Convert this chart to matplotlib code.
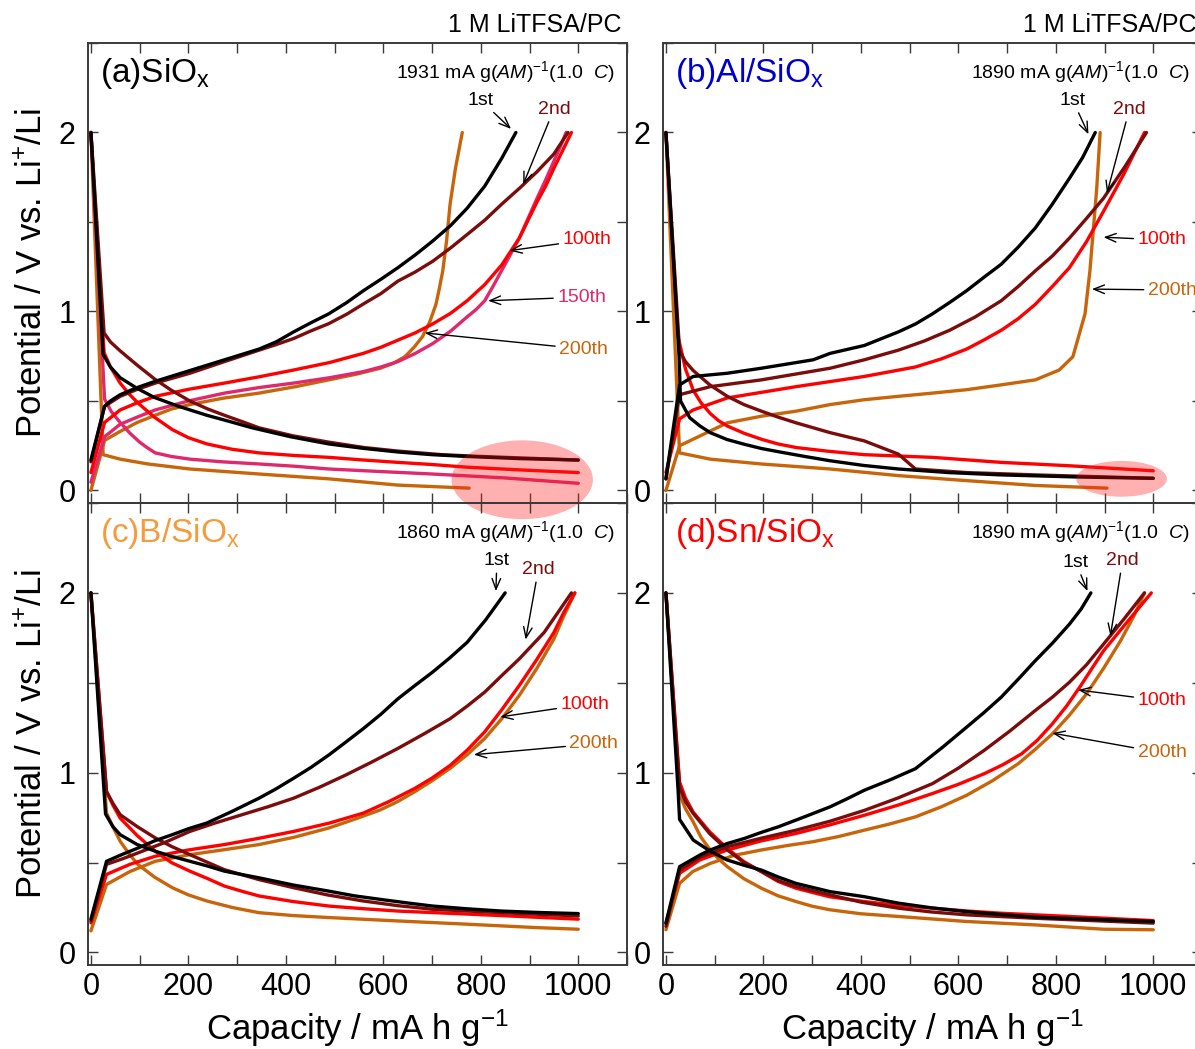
import matplotlib
matplotlib.use("Agg")
import matplotlib.pyplot as plt
from matplotlib.patches import Ellipse
from matplotlib.ticker import MultipleLocator, FuncFormatter

plt.rcParams.update({
    "font.family": ["Liberation Sans", "DejaVu Sans"],
    "mathtext.fontset": "custom",
    "mathtext.rm": "Liberation Sans",
    "mathtext.it": "Liberation Sans:italic",
    "mathtext.bf": "Liberation Sans:bold",
})

# ---- charge/discharge profiles: (capacity mAh/g, potential V) ----
# (a) SiOx
a_dis_1st = [(0, 2.0), (25, 0.76), (40, 0.69), (60, 0.63), (95, 0.57), (130, 0.52), (180, 0.47), (238, 0.42), (285, 0.385), (331, 0.35), (410, 0.30), (488, 0.26), (560, 0.235), (630, 0.215), (700, 0.2), (772, 0.19), (880, 0.178), (1000, 0.17)]
a_dis_2nd = [(0, 2.0), (27, 0.88), (40, 0.83), (60, 0.78), (95, 0.7), (132, 0.62), (165, 0.56), (203, 0.5), (240, 0.455), (274, 0.42), (310, 0.385), (345, 0.35), (415, 0.305), (488, 0.27), (560, 0.24), (630, 0.22), (720, 0.2), (800, 0.19), (1000, 0.17)]
a_dis_100 = [(0, 2.0), (27, 0.77), (40, 0.69), (60, 0.6), (78, 0.54), (96, 0.49), (130, 0.41), (167, 0.34), (200, 0.295), (238, 0.26), (290, 0.23), (345, 0.21), (420, 0.195), (488, 0.185), (560, 0.17), (630, 0.157), (700, 0.145), (772, 0.13), (880, 0.115), (1000, 0.10)]
a_dis_150 = [(0, 2.0), (28, 0.51), (42, 0.44), (60, 0.38), (80, 0.32), (100, 0.27), (115, 0.24), (132, 0.21), (165, 0.19), (203, 0.175), (270, 0.16), (345, 0.148), (420, 0.135), (488, 0.12), (600, 0.105), (700, 0.092), (850, 0.07), (1000, 0.04)]
a_dis_200 = [(0, 2.0), (25, 0.2), (60, 0.175), (117, 0.148), (203, 0.12), (345, 0.092), (488, 0.065), (630, 0.03), (776, 0.013)]
a_chg_1st = [(0, 0.17), (28, 0.47), (40, 0.5), (60, 0.535), (95, 0.575), (132, 0.61), (203, 0.67), (274, 0.73), (345, 0.79), (380, 0.83), (416, 0.886), (450, 0.935), (488, 0.987), (525, 1.05), (559, 1.116), (595, 1.18), (630, 1.245), (665, 1.315), (701, 1.393), (738, 1.48), (772, 1.577), (808, 1.70), (843, 1.856), (872, 2.0)]
a_chg_2nd = [(0, 0.16), (28, 0.47), (60, 0.526), (95, 0.565), (132, 0.6), (203, 0.655), (274, 0.72), (345, 0.784), (380, 0.815), (416, 0.849), (450, 0.89), (488, 0.932), (525, 0.985), (559, 1.042), (595, 1.1), (630, 1.17), (665, 1.22), (701, 1.28), (738, 1.355), (772, 1.43), (808, 1.51), (843, 1.6), (880, 1.69), (915, 1.78), (950, 1.88), (979, 2.0)]
a_chg_100 = [(0, 0.1), (28, 0.38), (60, 0.45), (95, 0.49), (132, 0.526), (200, 0.565), (274, 0.6), (345, 0.635), (416, 0.673), (490, 0.715), (559, 0.766), (595, 0.8), (630, 0.84), (665, 0.88), (701, 0.93), (738, 0.99), (772, 1.06), (808, 1.15), (843, 1.26), (879, 1.41), (897, 1.51), (915, 1.61), (933, 1.70), (950, 1.8), (968, 1.9), (986, 2.0)]
a_chg_150 = [(0, 0.046), (28, 0.3), (60, 0.37), (95, 0.41), (132, 0.45), (200, 0.5), (274, 0.544), (345, 0.575), (416, 0.6), (490, 0.63), (559, 0.664), (595, 0.69), (630, 0.72), (665, 0.765), (701, 0.82), (738, 0.89), (772, 0.97), (790, 1.01), (808, 1.06), (825, 1.14), (843, 1.23), (861, 1.32), (879, 1.41), (897, 1.52), (915, 1.63), (933, 1.735), (950, 1.84), (963, 1.92), (975, 2.0)]
a_chg_200 = [(0, 0.0), (28, 0.28), (60, 0.33), (95, 0.38), (132, 0.42), (165, 0.455), (203, 0.48), (270, 0.515), (345, 0.544), (420, 0.58), (488, 0.618), (545, 0.65), (594, 0.683), (620, 0.71), (644, 0.747), (663, 0.8), (680, 0.858), (695, 0.94), (708, 1.04), (715, 1.13), (722, 1.227), (730, 1.4), (737, 1.6), (748, 1.8), (762, 2.0)]

# (b) Al/SiOx
b_dis_1st = [(0, 2.0), (27, 0.75), (30, 0.5), (40, 0.45), (49, 0.406), (70, 0.36), (91, 0.323), (125, 0.285), (161, 0.258), (195, 0.235), (232, 0.216), (285, 0.19), (337, 0.166), (405, 0.14), (477, 0.12), (580, 0.1), (688, 0.087), (850, 0.075), (1000, 0.068)]
b_dis_2nd = [(0, 2.0), (28, 0.78), (40, 0.72), (56, 0.67), (90, 0.59), (126, 0.526), (160, 0.48), (196, 0.443), (230, 0.41), (267, 0.378), (337, 0.323), (407, 0.277), (477, 0.203), (512, 0.12), (617, 0.1), (758, 0.087), (1000, 0.068)]
b_dis_100 = [(0, 2.0), (25, 0.86), (40, 0.68), (56, 0.56), (72, 0.49), (91, 0.43), (108, 0.39), (126, 0.36), (160, 0.32), (196, 0.286), (230, 0.26), (267, 0.24), (330, 0.22), (407, 0.2), (547, 0.185), (688, 0.157), (828, 0.138), (1000, 0.11)]
b_dis_200 = [(0, 2.0), (28, 0.21), (91, 0.175), (196, 0.148), (337, 0.12), (477, 0.083), (617, 0.055), (758, 0.028), (905, 0.013)]
b_chg_1st = [(0, 0.065), (28, 0.59), (56, 0.637), (126, 0.655), (196, 0.683), (302, 0.73), (337, 0.766), (407, 0.81), (477, 0.886), (512, 0.93), (547, 0.987), (582, 1.05), (617, 1.116), (652, 1.19), (688, 1.264), (723, 1.36), (758, 1.467), (793, 1.6), (828, 1.744), (855, 1.86), (881, 2.0)]
b_chg_2nd = [(0, 0.065), (28, 0.535), (91, 0.58), (196, 0.618), (337, 0.683), (407, 0.73), (477, 0.784), (530, 0.835), (582, 0.895), (635, 0.97), (688, 1.06), (723, 1.14), (758, 1.227), (793, 1.31), (828, 1.41), (863, 1.52), (898, 1.633), (942, 1.81), (986, 2.0)]
b_chg_100 = [(0, 0.1), (28, 0.4), (56, 0.45), (126, 0.517), (267, 0.58), (407, 0.637), (512, 0.69), (565, 0.735), (617, 0.79), (652, 0.84), (688, 0.895), (723, 0.96), (758, 1.04), (793, 1.14), (828, 1.245), (863, 1.39), (898, 1.56), (940, 1.77), (982, 2.0)]
b_chg_200 = [(0, 0.0), (28, 0.25), (126, 0.378), (196, 0.415), (267, 0.443), (337, 0.48), (407, 0.507), (477, 0.526), (547, 0.544), (617, 0.563), (688, 0.59), (758, 0.618), (807, 0.673), (835, 0.747), (860, 0.987), (870, 1.227), (884, 1.688), (891, 2.0)]

# (c) B/SiOx
c_dis_1st = [(0, 2.0), (30, 0.77), (45, 0.7), (60, 0.655), (95, 0.6), (132, 0.563), (165, 0.535), (203, 0.507), (240, 0.48), (274, 0.452), (310, 0.433), (345, 0.415), (415, 0.375), (488, 0.341), (540, 0.315), (594, 0.295), (650, 0.275), (701, 0.258), (770, 0.243), (843, 0.23), (920, 0.222), (1000, 0.216)]
c_dis_2nd = [(0, 2.0), (32, 0.895), (45, 0.83), (60, 0.766), (95, 0.7), (132, 0.637), (165, 0.59), (203, 0.544), (240, 0.5), (274, 0.46), (345, 0.405), (416, 0.36), (485, 0.32), (559, 0.286), (630, 0.26), (701, 0.24), (850, 0.22), (1000, 0.203)]
c_dis_100 = [(0, 2.0), (32, 0.895), (45, 0.82), (60, 0.747), (95, 0.65), (132, 0.563), (165, 0.5), (203, 0.452), (240, 0.41), (274, 0.369), (310, 0.34), (345, 0.314), (415, 0.283), (488, 0.258), (560, 0.243), (630, 0.23), (800, 0.21), (1000, 0.185)]
c_dis_200 = [(0, 2.0), (32, 0.775), (45, 0.7), (60, 0.618), (78, 0.55), (96, 0.49), (130, 0.42), (167, 0.36), (200, 0.32), (238, 0.286), (290, 0.25), (345, 0.221), (415, 0.205), (488, 0.194), (630, 0.175), (772, 0.157), (915, 0.138), (1000, 0.129)]
c_chg_1st = [(0, 0.185), (32, 0.507), (64, 0.545), (96, 0.58), (130, 0.62), (167, 0.655), (200, 0.688), (238, 0.72), (290, 0.785), (345, 0.858), (380, 0.91), (416, 0.969), (452, 1.03), (488, 1.098), (523, 1.17), (559, 1.245), (595, 1.325), (630, 1.411), (665, 1.485), (701, 1.559), (737, 1.64), (772, 1.725), (810, 1.85), (850, 2.0)]
c_chg_2nd = [(0, 0.175), (32, 0.49), (64, 0.52), (96, 0.553), (150, 0.61), (203, 0.673), (255, 0.72), (310, 0.766), (363, 0.81), (416, 0.858), (470, 0.92), (523, 0.987), (577, 1.06), (630, 1.135), (683, 1.215), (737, 1.3), (772, 1.37), (808, 1.448), (843, 1.54), (879, 1.633), (930, 1.78), (986, 2.0)]
c_chg_100 = [(0, 0.165), (32, 0.434), (80, 0.49), (132, 0.535), (200, 0.57), (274, 0.6), (345, 0.635), (416, 0.673), (490, 0.72), (559, 0.775), (612, 0.84), (665, 0.913), (700, 0.97), (737, 1.04), (772, 1.125), (808, 1.227), (843, 1.35), (879, 1.485), (915, 1.63), (950, 1.78), (970, 1.89), (993, 2.0)]
c_chg_200 = [(0, 0.12), (32, 0.378), (80, 0.45), (132, 0.507), (203, 0.544), (270, 0.57), (345, 0.6), (416, 0.64), (488, 0.692), (540, 0.74), (594, 0.793), (630, 0.84), (665, 0.895), (700, 0.955), (737, 1.024), (772, 1.1), (808, 1.19), (843, 1.3), (879, 1.43), (915, 1.58), (950, 1.744), (970, 1.87), (993, 2.0)]

# (d) Sn/SiOx
d_dis_1st = [(0, 2.0), (25, 0.9), (28, 0.74), (56, 0.625), (90, 0.565), (126, 0.514), (160, 0.485), (196, 0.458), (230, 0.42), (267, 0.384), (337, 0.338), (407, 0.31), (477, 0.274), (545, 0.248), (617, 0.227), (758, 0.196), (1000, 0.172)]
d_dis_2nd = [(0, 2.0), (28, 0.92), (40, 0.84), (56, 0.773), (90, 0.66), (126, 0.57), (160, 0.5), (196, 0.45), (230, 0.4), (267, 0.366), (337, 0.32), (400, 0.28), (477, 0.246), (545, 0.225), (617, 0.209), (758, 0.19), (1000, 0.163)]
d_dis_100 = [(0, 2.0), (28, 0.948), (40, 0.86), (56, 0.78), (90, 0.67), (126, 0.578), (160, 0.505), (196, 0.449), (230, 0.395), (267, 0.357), (335, 0.31), (407, 0.283), (475, 0.262), (547, 0.246), (620, 0.23), (688, 0.218), (828, 0.2), (1000, 0.177)]
d_dis_200 = [(0, 2.0), (28, 0.88), (40, 0.8), (56, 0.726), (72, 0.64), (91, 0.57), (108, 0.52), (126, 0.477), (160, 0.41), (196, 0.357), (230, 0.315), (267, 0.283), (300, 0.257), (337, 0.237), (400, 0.215), (477, 0.2), (617, 0.172), (758, 0.153), (898, 0.129), (1000, 0.126)]
d_chg_1st = [(0, 0.163), (28, 0.477), (72, 0.545), (91, 0.57), (125, 0.605), (161, 0.634), (195, 0.667), (232, 0.7), (285, 0.755), (337, 0.81), (372, 0.855), (407, 0.902), (460, 0.96), (512, 1.022), (568, 1.142), (617, 1.253), (653, 1.335), (688, 1.42), (723, 1.52), (758, 1.623), (793, 1.72), (828, 1.826), (852, 1.91), (872, 2.0)]
d_chg_2nd = [(0, 0.145), (28, 0.458), (70, 0.53), (126, 0.588), (195, 0.635), (267, 0.68), (337, 0.73), (407, 0.79), (477, 0.86), (547, 0.939), (600, 1.025), (653, 1.124), (705, 1.23), (758, 1.346), (793, 1.42), (828, 1.503), (863, 1.6), (898, 1.715), (940, 1.855), (982, 2.0)]
d_chg_100 = [(0, 0.163), (28, 0.44), (70, 0.515), (126, 0.57), (195, 0.62), (267, 0.662), (337, 0.71), (407, 0.763), (477, 0.82), (547, 0.884), (600, 0.935), (653, 0.994), (692, 1.045), (730, 1.105), (762, 1.18), (793, 1.272), (822, 1.37), (849, 1.475), (873, 1.575), (898, 1.678), (947, 1.84), (996, 2.0)]
d_chg_200 = [(0, 0.126), (28, 0.384), (55, 0.45), (91, 0.495), (140, 0.54), (196, 0.57), (250, 0.595), (302, 0.616), (355, 0.645), (407, 0.68), (460, 0.715), (512, 0.754), (565, 0.81), (617, 0.874), (670, 0.955), (723, 1.05), (758, 1.13), (793, 1.216), (828, 1.32), (863, 1.438), (898, 1.58), (933, 1.734), (960, 1.87), (982, 2.0)]

# cycle labels and colours
cycles = ["1st", "2nd", "100th", "150th", "200th"]
cycle_colors = {"1st": "#000000", "2nd": "#7a0c0c", "100th": "#ff0000",
                "150th": "#e0286c", "200th": "#c8650a"}

# panel titles, rates, title colours
titles = [r"(a)SiO$_\mathregular{x}$", r"(b)Al/SiO$_\mathregular{x}$",
          r"(c)B/SiO$_\mathregular{x}$", r"(d)Sn/SiO$_\mathregular{x}$"]
title_colors = ["#000000", "#0000cc", "#f59b3c", "#ff0000"]
rates = ["1931", "1890", "1860", "1890"]
electrolyte = "1 M LiTFSA/PC"

# cycle annotations: (label, text position, arrow tip)
a_notes = [("1st", (800, 2.18), (862, 2.02)), ("2nd", (950, 2.13), (887, 1.71)),
           ("100th", (968, 1.40), (859, 1.34)), ("150th", (957, 1.08), (815, 1.06)),
           ("200th", (961, 0.79), (685, 0.88))]
b_notes = [("1st", (835, 2.18), (867, 1.99)), ("2nd", (951, 2.13), (905, 1.66)),
           ("100th", (968, 1.40), (898, 1.415)), ("200th", (989, 1.12), (874, 1.125))]
c_notes = [("1st", (833, 2.18), (831, 2.01)), ("2nd", (918, 2.13), (892, 1.74)),
           ("100th", (964, 1.38), (840, 1.31)), ("200th", (982, 1.16), (786, 1.10))]
d_notes = [("1st", (841, 2.17), (865, 2.01)), ("2nd", (937, 2.18), (912, 1.76)),
           ("100th", (968, 1.40), (846, 1.46)), ("200th", (968, 1.11), (793, 1.22))]

# highlighted low-potential regions: (centre, width, height)
a_highlight = ((885, 0.06), 290, 0.44)
b_highlight = ((935, 0.065), 186, 0.20)

panels = [
    {"curves": {"1st": (a_dis_1st, a_chg_1st), "2nd": (a_dis_2nd, a_chg_2nd),
                "100th": (a_dis_100, a_chg_100), "150th": (a_dis_150, a_chg_150),
                "200th": (a_dis_200, a_chg_200)}, "notes": a_notes, "highlight": a_highlight},
    {"curves": {"1st": (b_dis_1st, b_chg_1st), "2nd": (b_dis_2nd, b_chg_2nd),
                "100th": (b_dis_100, b_chg_100), "200th": (b_dis_200, b_chg_200)},
     "notes": b_notes, "highlight": b_highlight},
    {"curves": {"1st": (c_dis_1st, c_chg_1st), "2nd": (c_dis_2nd, c_chg_2nd),
                "100th": (c_dis_100, c_chg_100), "200th": (c_dis_200, c_chg_200)},
     "notes": c_notes, "highlight": None},
    {"curves": {"1st": (d_dis_1st, d_chg_1st), "2nd": (d_dis_2nd, d_chg_2nd),
                "100th": (d_dis_100, d_chg_100), "200th": (d_dis_200, d_chg_200)},
     "notes": d_notes, "highlight": None},
]

W, H = 1195, 1049
fig = plt.figure(figsize=(W / 100, H / 100), dpi=100)

boxes = [(88, 43, 539, 460), (663, 43, 539, 460), (88, 503, 539, 462), (663, 503, 539, 462)]

spine_col = "#3a3a3a"
for i, (panel, (x0, y0, w, h)) in enumerate(zip(panels, boxes)):
    ax = fig.add_axes([x0 / W, 1 - (y0 + h) / H, w / W, h / H])
    ax.patch.set_visible(False)
    ax.set_xlim(-6, 1100)
    ax.set_ylim(-0.07, 2.5)

    for name in reversed(cycles):
        if name not in panel["curves"]:
            continue
        dis, chg = panel["curves"][name]
        for seg in (dis, chg):
            xs = [p[0] for p in seg]
            ys = [p[1] for p in seg]
            ax.plot(xs, ys, color=cycle_colors[name], lw=2.4, solid_joinstyle="round",
                    solid_capstyle="round", zorder=2)

    if panel["highlight"] is not None:
        (cx, cy), ew, eh = panel["highlight"]
        ax.add_patch(Ellipse((cx, cy), ew, eh, facecolor="#ff1a1a", alpha=0.34,
                             edgecolor="none", clip_on=False, zorder=3))

    for label, txt, tip in panel["notes"]:
        ha = "center" if label in ("1st", "2nd") else "left"
        ax.annotate(label, xy=tip, xytext=txt, color=cycle_colors[label], fontsize=14,
                    ha=ha, va="center", zorder=4,
                    arrowprops=dict(arrowstyle="->,head_length=0.55,head_width=0.22",
                                    color="black", lw=1.0, shrinkA=1, shrinkB=0))

    ax.text(18, 2.33, titles[i], color=title_colors[i], fontsize=24, ha="left", va="center")
    ax.text(1075, 2.34, rates[i] + r" mA g($\mathit{AM}$)$^{-1}$(1.0  $\mathit{C}$)",
            fontsize=14, ha="right", va="center")
    if i < 2:
        ax.text(0.99, 1.012, electrolyte, transform=ax.transAxes, fontsize=18,
                ha="right", va="bottom")

    ax.xaxis.set_major_locator(MultipleLocator(100))
    ax.yaxis.set_major_locator(MultipleLocator(0.5))
    bottom = i >= 2
    ax.xaxis.set_major_formatter(FuncFormatter(
        lambda v, p, show=bottom: f"{int(round(v))}" if show and round(v) % 200 == 0 else ""))
    ax.yaxis.set_major_formatter(FuncFormatter(
        lambda v, p: f"{int(round(v))}" if abs(v - round(v)) < 1e-6 else ""))
    ax.tick_params(axis="both", which="major", direction="in", length=7, width=1.0,
                   top=True, right=True, labelsize=22, color=spine_col)
    ax.tick_params(axis="x", pad=5)
    ax.tick_params(axis="y", pad=9)
    for s in ax.spines.values():
        s.set_color(spine_col)
        s.set_linewidth(1.4)

    if i % 2 == 0:
        ax.set_ylabel(r"Potential / V vs. Li$^{+}$/Li", fontsize=25)
        ax.yaxis.set_label_coords(-0.072, 0.5)
    if bottom:
        ax.set_xlabel(r"Capacity / mA h g$^{-1}$", fontsize=25)
        ax.xaxis.set_label_coords(0.5, -0.093)

fig.savefig("out.png", dpi=100)
